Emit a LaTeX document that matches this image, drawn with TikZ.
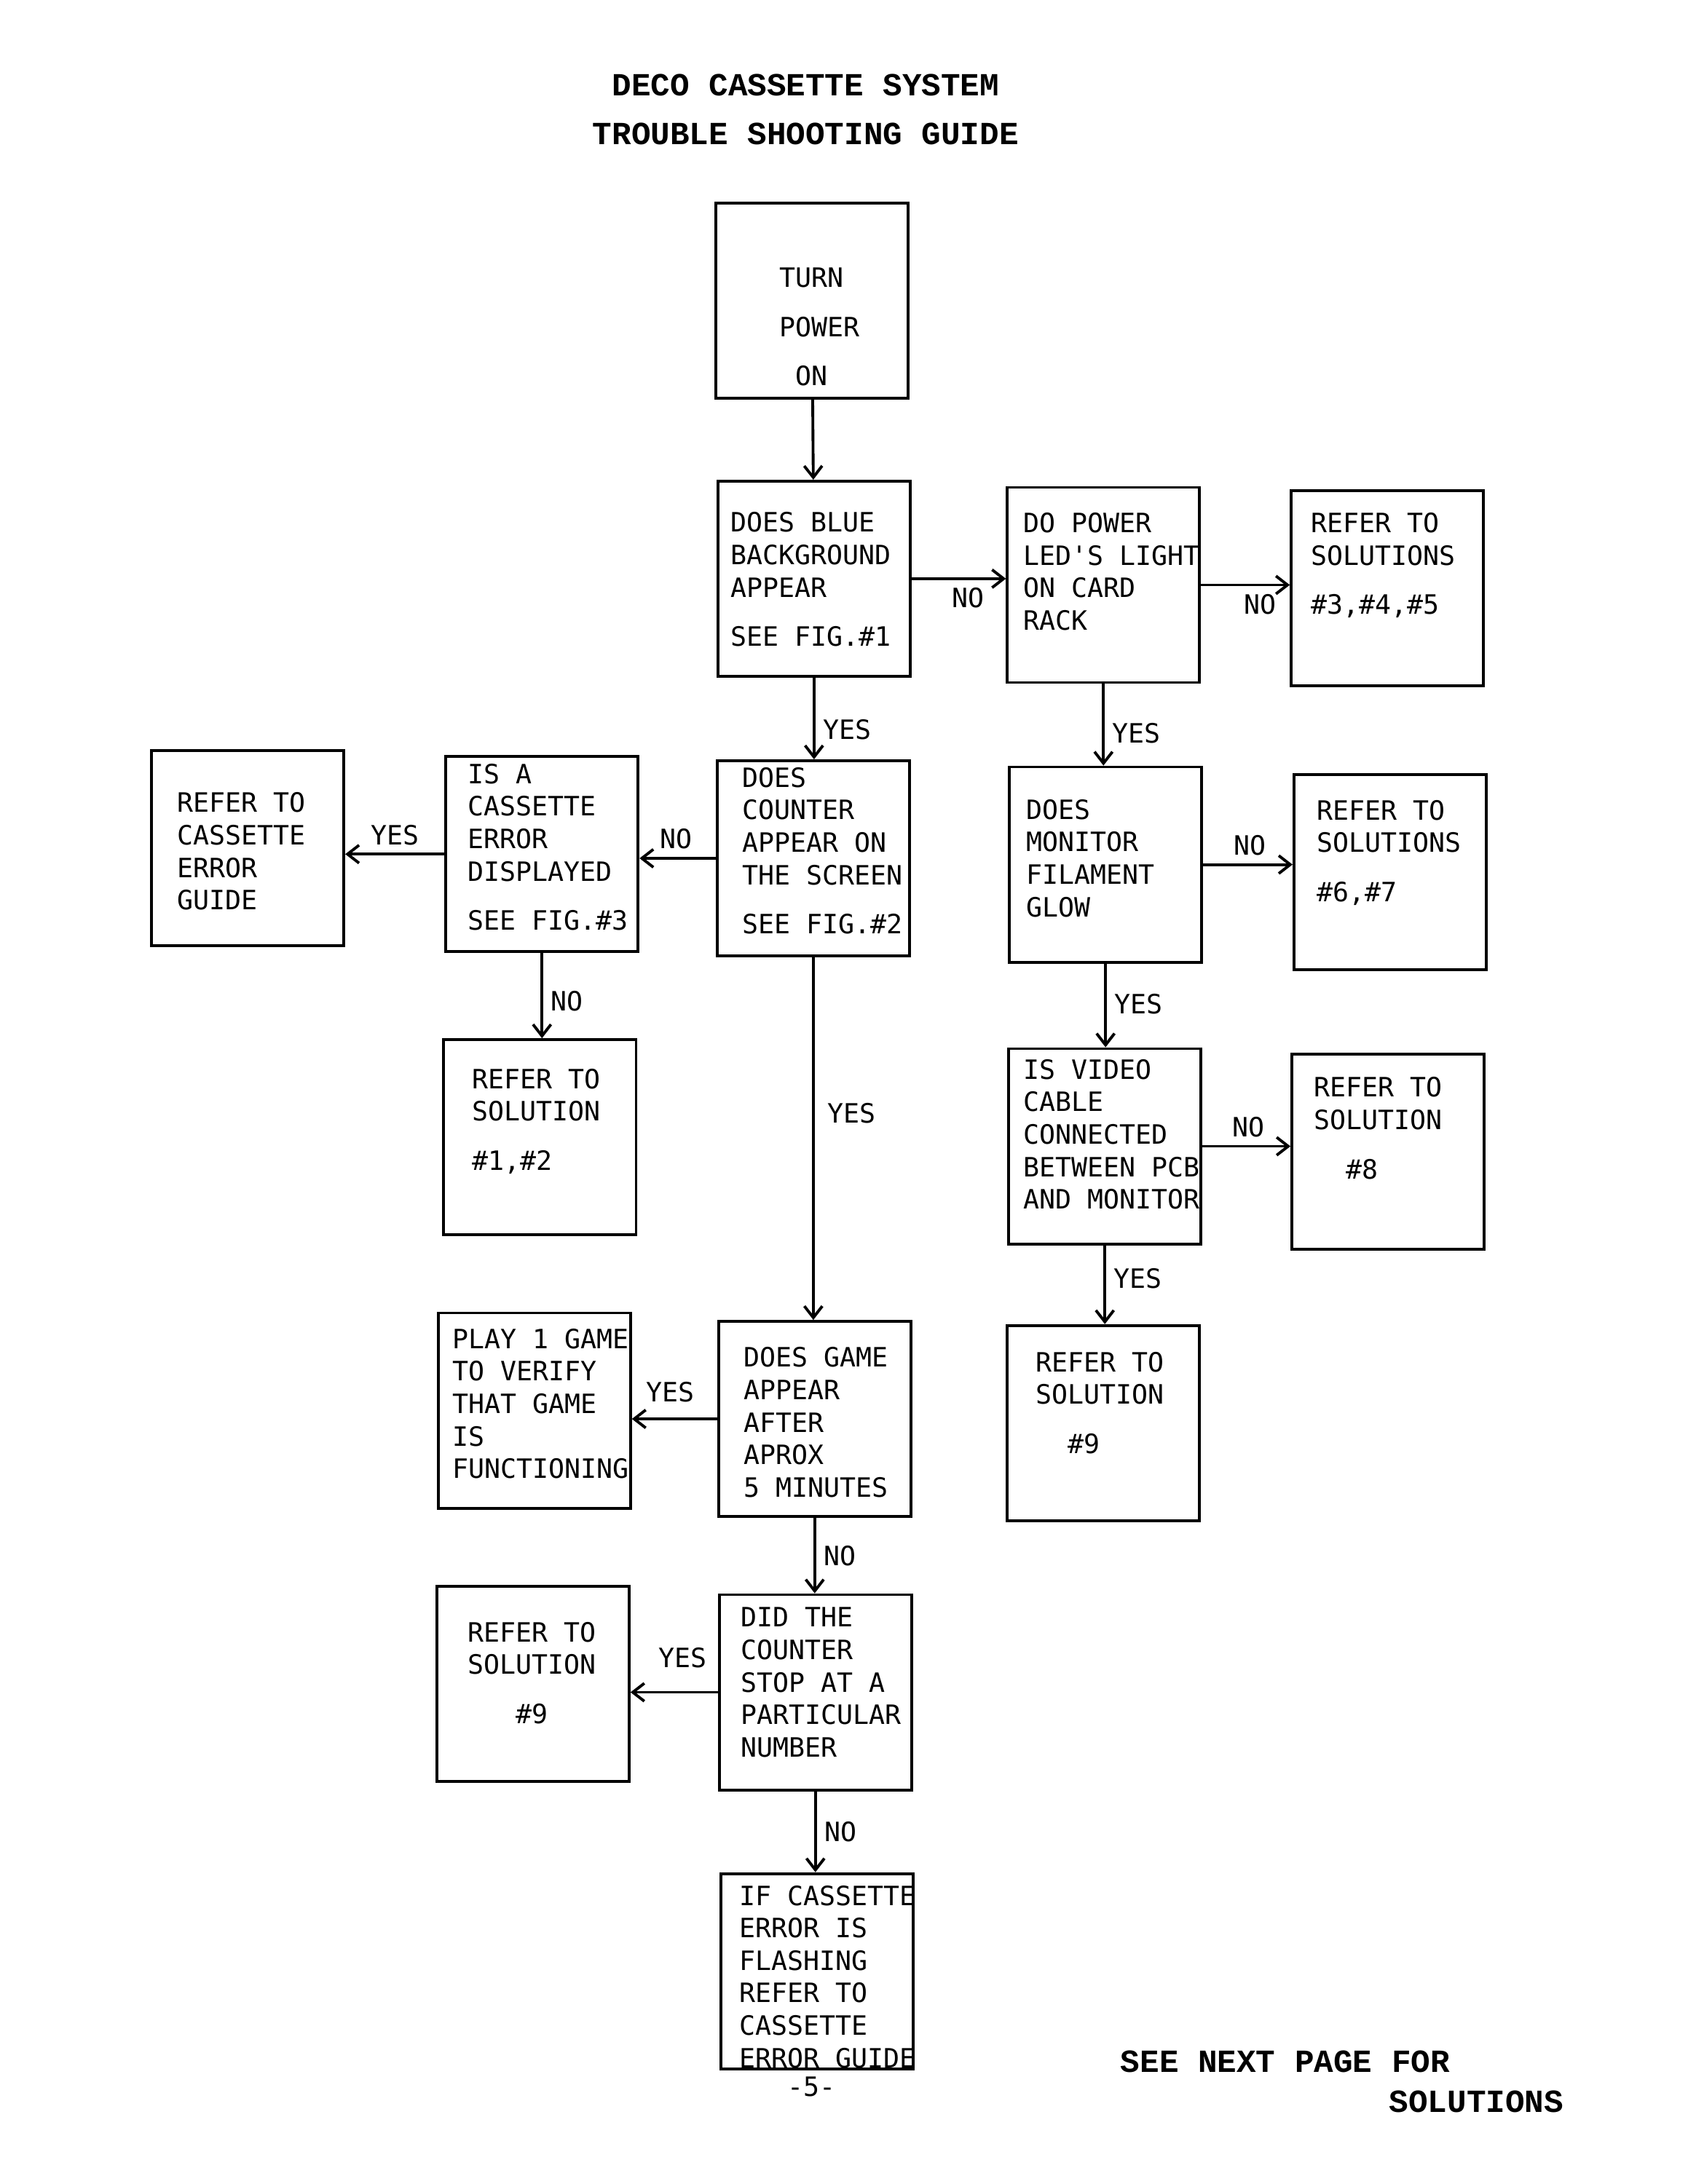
\documentclass[tikz,border=0pt]{standalone}
\usepackage{fontspec}
\usepackage{tikz}
\usetikzlibrary{shapes,arrows.meta,positioning,calc}
\newfontfamily\flowfont{DejaVu Sans Mono}
\newfontfamily\typefont{Liberation Mono Bold}

\begin{document}
\begin{tikzpicture}[x=0.01911cm, y=-0.01911cm]
    % Define styles
    \tikzset{
        box/.style={draw, rectangle, line width=1.1pt, inner sep=0pt, minimum width=2.64cm, minimum height=2.68cm},
        txt/.style={font={\flowfont\fontsize{10.4}{12.7}\selectfont}, align=left, inner sep=0pt, anchor=west},
        lbl/.style={font={\flowfont\fontsize{10.4}{12.7}\selectfont}, inner sep=3pt},
        head/.style={font={\typefont\fontsize{12.6}{14}\selectfont}, inner sep=0pt},
        arrow/.style={-{Straight Barb[length=4.5pt,width=7pt]}, line width=1.1pt}
    }
    \useasboundingbox (0,0) rectangle (1213,1570);

    % Title
    \node[head] (title1) at (579,61) {DECO CASSETTE SYSTEM};
    \node[head] (title2) at (579,96) {TROUBLE SHOOTING GUIDE};

    % Place boxes
    \node[box] (power) at (583.5,216) {};
    \node[box] (blue) at (585,416) {};
    \node[box] (led) at (793,420.5) {};
    \node[box] (sol345) at (997,423) {};
    \node[box] (counter) at (584.5,617) {};
    \node[box] (cassdisp) at (389.5,614) {};
    \node[box] (casguide) at (178,609.5) {};
    \node[box] (monitor) at (794.5,621.5) {};
    \node[box] (sol67) at (999,627) {};
    \node[box] (sol12) at (388,817.5) {};
    \node[box] (video) at (794,824) {};
    \node[box] (sol8) at (997.5,828) {};
    \node[box] (sol9r) at (793,1023) {};
    \node[box] (play) at (384,1014) {};
    \node[box] (gameap) at (585.5,1020) {};
    \node[box] (sol9l) at (383,1210.5) {};
    \node[box] (stopnum) at (586,1216.5) {};
    \node[box] (flash) at (587,1417) {};

    % Box texts
    \node[txt] (power-t) at (560,235) {TURN\\[6.5pt]POWER\\[6.5pt]\hphantom{T}ON};
    \node[txt] (blue-t) at (525,416.5) {DOES BLUE\\BACKGROUND\\APPEAR\\[6.5pt]SEE FIG.\#1};
    \node[txt] (led-t) at (735,411) {DO POWER\\LED'S LIGHT\\ON CARD\\RACK};
    \node[txt] (sol345-t) at (942,406.5) {REFER TO\\SOLUTIONS\\[6.5pt]\#3,\#4,\#5};
    \node[txt] (counter-t) at (533,611.5) {DOES\\COUNTER\\APPEAR ON\\THE SCREEN\\[6.5pt]SEE FIG.\#2};
    \node[txt] (cassdisp-t) at (336,609) {IS A\\CASSETTE\\ERROR\\DISPLAYED\\[6.5pt]SEE FIG.\#3};
    \node[txt] (casguide-t) at (127,612) {REFER TO\\CASSETTE\\ERROR\\GUIDE};
    \node[txt] (monitor-t) at (737,617) {DOES\\MONITOR\\FILAMENT\\GLOW};
    \node[txt] (sol67-t) at (946,613) {REFER TO\\SOLUTIONS\\[6.5pt]\#6,\#7};
    \node[txt] (sol12-t) at (339,806) {REFER TO\\SOLUTION\\[6.5pt]\#1,\#2};
    \node[txt] (video-t) at (735,815.5) {IS VIDEO\\CABLE\\CONNECTED\\BETWEEN PCB\\AND MONITOR};
    \node[txt] (sol8-t) at (944,811) {REFER TO\\SOLUTION\\[6.5pt]\hphantom{RE}\#8};
    \node[txt] (sol9r-t) at (744,1008.5) {REFER TO\\SOLUTION\\[6.5pt]\hphantom{RE}\#9};
    \node[txt] (play-t) at (325,1009) {PLAY 1 GAME\\TO VERIFY\\THAT GAME\\IS\\FUNCTIONING};
    \node[txt] (gameap-t) at (534,1022.5) {DOES GAME\\APPEAR\\AFTER\\APROX\\5 MINUTES};
    \node[txt] (sol9l-t) at (336,1202.5) {REFER TO\\SOLUTION\\[6.5pt]\hphantom{REF}\#9};
    \node[txt] (stopnum-t) at (532,1209.5) {DID THE\\COUNTER\\STOP AT A\\PARTICULAR\\NUMBER};
    \node[txt] (flash-t) at (531,1421) {IF CASSETTE\\ERROR IS\\FLASHING\\REFER TO\\CASSETTE\\ERROR GUIDE};

    % Draw arrows
    \draw[arrow] (power) -- (blue);
    \draw[arrow] (blue) -- node[lbl, below, pos=0.6] {NO} (blue -| led.west);
    \draw[arrow] (led) -- node[lbl, below, pos=0.67] {NO} (led -| sol345.west);
    \draw[arrow] (blue) -- node[lbl, right, pos=0.64] {YES} (blue |- counter.north);
    \draw[arrow] (counter) -- node[lbl, above, pos=0.52] {NO} (counter -| cassdisp.east);
    \draw[arrow] (cassdisp) -- node[lbl, above, pos=0.5] {YES} (cassdisp -| casguide.east);
    \draw[arrow] (cassdisp) -- node[lbl, right, pos=0.56] {NO} (cassdisp |- sol12.north);
    \draw[arrow] (led) -- node[lbl, right, pos=0.6] {YES} (led |- monitor.north);
    \draw[arrow] (monitor) -- node[lbl, above, pos=0.52] {NO} (monitor -| sol67.west);
    \draw[arrow] (monitor) -- node[lbl, right, pos=0.48] {YES} (monitor |- video.north);
    \draw[arrow] (video) -- node[lbl, above, pos=0.52] {NO} (video -| sol8.west);
    \draw[arrow] (video) -- node[lbl, right, pos=0.42] {YES} (video |- sol9r.north);
    \draw[arrow] (counter) -- node[lbl, right, pos=0.43, xshift=2pt] {YES} (counter |- gameap.north);
    \draw[arrow] (gameap) -- node[lbl, above, pos=0.55, yshift=3pt] {YES} (gameap -| play.east);
    \draw[arrow] (gameap) -- node[lbl, right, pos=0.5] {NO} (gameap |- stopnum.north);
    \draw[arrow] (stopnum) -- node[lbl, above, pos=0.4, yshift=6pt] {YES} (stopnum -| sol9l.east);
    \draw[arrow] (stopnum) -- node[lbl, right, pos=0.5] {NO} (stopnum |- flash.north);

    % Page footer
    \node[lbl] (page) at (583,1500) {-5-};
    \node[head, anchor=west] (next1) at (805,1482) {SEE NEXT PAGE FOR};
    \node[head, anchor=west] (next2) at (998,1511) {SOLUTIONS};
\end{tikzpicture}
\end{document}
